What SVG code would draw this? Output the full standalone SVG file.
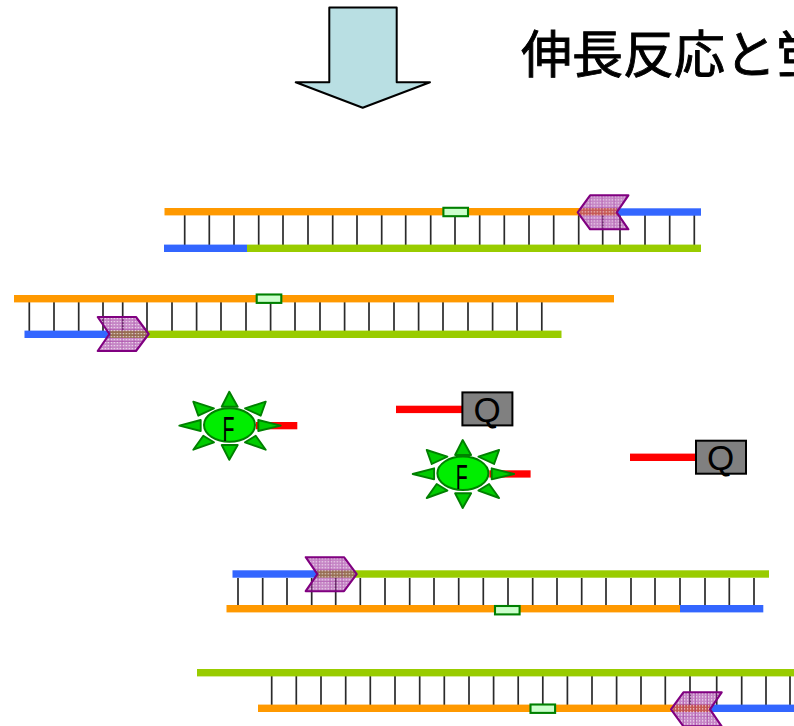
<svg xmlns="http://www.w3.org/2000/svg" width="794" height="726" viewBox="0 0 794 726">
<style>
  .orange { fill: #ff9900; }
  .blue { fill: #3366ff; }
  .green { fill: #99cc00; }
  .red { fill: #ff0000; }
  .rung { fill: none; stroke: #2b2b2b; stroke-width: 1.7; }
  .probe-site { fill: #ccffcc; stroke: #008000; stroke-width: 2.1; }
  .primer { fill: url(#primerFill); stroke: #800080; stroke-width: 2.1; stroke-linejoin: round; }
  .ray { fill: #00cc00; stroke: #008000; stroke-width: 1.9; stroke-linejoin: round; }
  .core { fill: #00ee00; stroke: #008000; stroke-width: 2; }
  .quencher { fill: #808080; stroke: #000000; stroke-width: 2; }
  .letter { font-family: "Liberation Sans", Arial, sans-serif; font-size: 35px; fill: #000000; }
  .title { font-family: "Noto Sans CJK JP", "Noto Sans CJK SC", sans-serif; font-size: 51px; fill: #000000; stroke: #000000; stroke-width: 0.9; }
</style>
<defs>
  <pattern id="speck" width="3" height="3" patternUnits="userSpaceOnUse">
    <rect width="3" height="3" fill="#952095" fill-opacity="0.55"/>
    <rect x="1" y="1" width="1.2" height="1.2" fill="#ffffff" fill-opacity="0.8"/>
  </pattern>
  <pattern id="primerFill" width="12" height="12" patternUnits="userSpaceOnUse">
    <rect width="12" height="12" fill="url(#speck)"/>
    <path d="M0 0H12M0 0V12" stroke="#952095" stroke-opacity="0.6" stroke-width="1" fill="none"/>
  </pattern>
  <polygon id="primerRight" class="primer" points="0,0 38.3,0 51,17 38.3,34 0,34 11.7,17"/>
  <polygon id="primerLeft" class="primer" points="0,17 12.4,0 50.7,0 39,17 50.7,34 12.4,34"/>
  <rect id="site" class="probe-site" x="0" y="0" width="24.6" height="8.4"/>
  <g id="fluor">
    <polygon class="ray" points="229.3,391.7 221.7,406.7 237.7,406.7"/>
    <polygon class="ray" points="229.3,459.7 221.7,445 237.7,445"/>
    <polygon class="ray" points="179.3,425.7 200.7,420 200.7,431"/>
    <polygon class="ray" points="280.7,425.7 258.3,420 258.3,431"/>
    <polygon class="ray" points="193.3,401.7 214,408.3 198.3,415.7"/>
    <polygon class="ray" points="265.7,401.7 245,408.3 260.7,415.7"/>
    <polygon class="ray" points="193.3,449.7 214,442.3 203.3,435.7"/>
    <polygon class="ray" points="265.7,449.7 245,442.3 255.7,435.7"/>
    <ellipse class="core" cx="229.5" cy="425" rx="25.5" ry="16.7"/>
    <text class="letter" transform="translate(222.4 441) scale(0.56 1)">F</text>
  </g>
</defs>

<rect width="794" height="726" fill="#ffffff"/>

<!-- Downward process arrow -->
<g id="process-arrow">
  <polygon points="329.3,7.5 396.7,7.5 396.7,82.3 430,82.3 362.7,107.7 295.7,82.3 329.3,82.3" fill="#b9dfe3" stroke="#000000" stroke-width="2" stroke-linejoin="round"/>
</g>

<g id="title">
  <text class="title" x="521" y="73">伸長反応と蛍</text>
</g>

<!-- Upper duplex: primer annealing from the right -->
<g id="duplex-a">
  <path class="rung" d="M184.7 215V245M209.3 215V245M234 215V245M258.7 215V245M283 215V245M308 215V245M332.7 215V245M357 215V245M381.7 215V245M405.7 215V245M430.7 215V245M455 215V245M479.7 215V245M504.3 215V245M529 215V245M553.7 215V245M578.7 215V245M602.7 215V245M620 215V245M645 215V245M669.7 215V245M694.3 215V245"/>
  <rect class="orange" x="164.5" y="208" width="453" height="7.4"/>
  <rect class="blue" x="617" y="208.3" width="84" height="7.4"/>
  <rect class="blue" x="164" y="244.6" width="83" height="7.4"/>
  <rect class="green" x="247" y="244.6" width="454" height="7.4"/>
  <use href="#site" x="443.4" y="207.8"/>
  <use href="#primerLeft" x="577.7" y="195.3"/>
</g>

<!-- Second duplex: primer annealing from the left -->
<g id="duplex-b">
  <path class="rung" d="M29.3 302V331M54 302V331M78.7 302V331M103 302V331M122.7 302V331M147 302V331M172 302V331M196.6 302V331M221 302V331M246 302V331M270.6 302V331M295 302V331M320 302V331M344.6 302V331M369 302V331M394 302V331M418.6 302V331M443 302V331M468 302V331M492.6 302V331M517 302V331M541.8 302V331"/>
  <rect class="orange" x="14" y="295" width="600" height="7.4"/>
  <rect class="blue" x="24.5" y="330.6" width="86" height="7.4"/>
  <rect class="green" x="110" y="330.6" width="451.5" height="7.4"/>
  <use href="#site" x="256.7" y="294.5"/>
  <use href="#primerRight" x="97.7" y="317"/>
</g>

<!-- Fluorophores released with their short tails -->
<g id="fluor-1">
  <rect class="red" x="256" y="422" width="41.3" height="7.3"/>
  <use href="#fluor"/>
</g>
<g id="fluor-2">
  <rect class="red" x="489.3" y="470.3" width="41.3" height="7.3"/>
  <use href="#fluor" x="233.4" y="48.3"/>
</g>

<!-- Quenchers with their tails -->
<g id="quencher-1">
  <rect class="red" x="396" y="405.7" width="66" height="7.4"/>
  <rect class="quencher" x="462.4" y="392.4" width="50" height="33"/>
  <text class="letter" x="487" y="421.5" text-anchor="middle">Q</text>
</g>
<g id="quencher-2">
  <rect class="red" x="630" y="453.6" width="66" height="7.4"/>
  <rect class="quencher" x="696" y="440.7" width="50" height="33"/>
  <text class="letter" x="720.6" y="469.8" text-anchor="middle">Q</text>
</g>

<!-- Third duplex -->
<g id="duplex-c">
  <path class="rung" d="M238 578V605M262.7 578V605M287 578V605M311.7 578V605M335.7 578V605M360.3 578V605M385 578V605M409.7 578V605M434 578V605M458.7 578V605M483.3 578V605M508 578V605M532.7 578V605M557 578V605M581.7 578V605M606 578V605M631 578V605M655 578V605M680 578V605M705 578V605M729.3 578V605M754 578V605"/>
  <rect class="blue" x="232.5" y="570.3" width="85" height="7.4"/>
  <rect class="green" x="317" y="570.3" width="452" height="7.4"/>
  <rect class="orange" x="226.5" y="605" width="453.5" height="7.4"/>
  <rect class="blue" x="680" y="605" width="83.3" height="7.4"/>
  <use href="#site" x="495" y="606"/>
  <use href="#primerRight" x="305.7" y="557.2"/>
</g>

<!-- Lowest duplex, running off the page edge -->
<g id="duplex-d">
  <path class="rung" d="M271.7 676V705M296.3 676V705M321 676V705M345.7 676V705M370.3 676V705M395 676V705M419.7 676V705M444.3 676V705M469 676V705M493.6 676V705M518.2 676V705M542.8 676V705M567.4 676V705M592 676V705M616.6 676V705M641 676V705M665.3 676V705M690 676V705M716.7 676V705M741.7 676V705M766 676V705M790 676V705"/>
  <rect class="green" x="197" y="669" width="597" height="7.4"/>
  <rect class="orange" x="258" y="704.6" width="452" height="7.4"/>
  <rect class="blue" x="711" y="704.6" width="83" height="7.4"/>
  <use href="#site" x="530.5" y="704.5"/>
  <use href="#primerLeft" x="671" y="692.3"/>
</g>
</svg>
